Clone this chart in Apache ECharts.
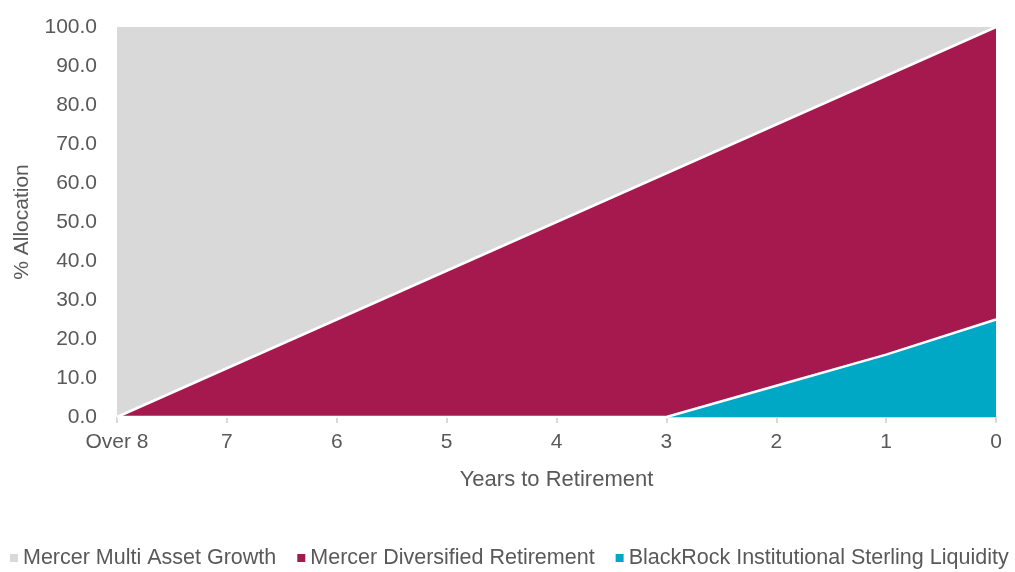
<!DOCTYPE html>
<html>
<head>
<meta charset="utf-8">
<script src="https://cdn.jsdelivr.net/npm/echarts@6/dist/echarts.min.js"></script>
<style>html,body{margin:0;padding:0;background:#fff}#c{width:1015px;height:572px}</style>
</head>
<body>
<div id="c"></div>
<script>
const categories = ['Over 8', '7', '6', '5', '4', '3', '2', '1', '0'];
const liquidity = [0, 0, 0, 0, 0, 0, 8, 16, 25];
const diversified = [0, 12.5, 25, 37.5, 50, 62.5, 67, 71.5, 75];
const growth = [100, 87.5, 75, 62.5, 50, 37.5, 25, 12.5, 0];
const seriesNames = ['Mercer Multi Asset Growth', 'Mercer Diversified Retirement', 'BlackRock Institutional Sterling Liquidity'];
const colors = ['#d9d9d9', '#a6194e', '#00a8c6'];

const font = 'Liberation Sans, Arial, sans-serif';
const chart = echarts.init(document.getElementById('c'), null, {renderer: 'canvas'});
function area(name, data, color, showLine) {
  return {
    name: name, type: 'line', stack: 'total', data: data,
    symbol: 'none', showSymbol: false,
    lineStyle: {color: '#ffffff', width: showLine ? 2.5 : 0},
    itemStyle: {color: color},
    areaStyle: {color: color, opacity: 1},
    emphasis: {disabled: true}
  };
}
chart.setOption({
  animation: false,
  grid: {left: 117, right: 19, top: 27, bottom: 155},
  legend: {
    data: seriesNames,
    bottom: 3, left: 10, padding: 0,
    icon: 'rect', itemWidth: 8, itemHeight: 8, itemGap: 21, itemStyle: {borderWidth: 0},
    textStyle: {color: '#595959', fontSize: 21.5, fontFamily: font}
  },
  xAxis: {
    type: 'category', data: categories, boundaryGap: false,
    name: 'Years to Retirement', nameLocation: 'middle', nameGap: 52,
    nameTextStyle: {color: '#595959', fontSize: 22, fontFamily: font},
    axisLine: {lineStyle: {color: '#d9d9d9', width: 2}},
    axisTick: {show: true, alignWithLabel: true, length: 6, lineStyle: {color: '#d9d9d9', width: 2}},
    axisLabel: {color: '#595959', fontSize: 21, fontFamily: font, margin: 15}
  },
  yAxis: {
    type: 'value', min: 0, max: 100, interval: 10,
    name: '% Allocation', nameLocation: 'middle', nameGap: 84,
    nameTextStyle: {color: '#595959', fontSize: 21, fontFamily: font},
    axisLine: {show: false}, axisTick: {show: false},
    splitLine: {show: true, lineStyle: {color: '#f2f2f2', width: 1}},
    axisLabel: {color: '#595959', fontSize: 21, fontFamily: font, margin: 20,
      formatter: v => v.toFixed(1)}
  },
  series: [
    area(seriesNames[2], liquidity, colors[2], true),
    area(seriesNames[1], diversified, colors[1], true),
    area(seriesNames[0], growth, colors[0], false)
  ]
});
</script>
</body>
</html>
